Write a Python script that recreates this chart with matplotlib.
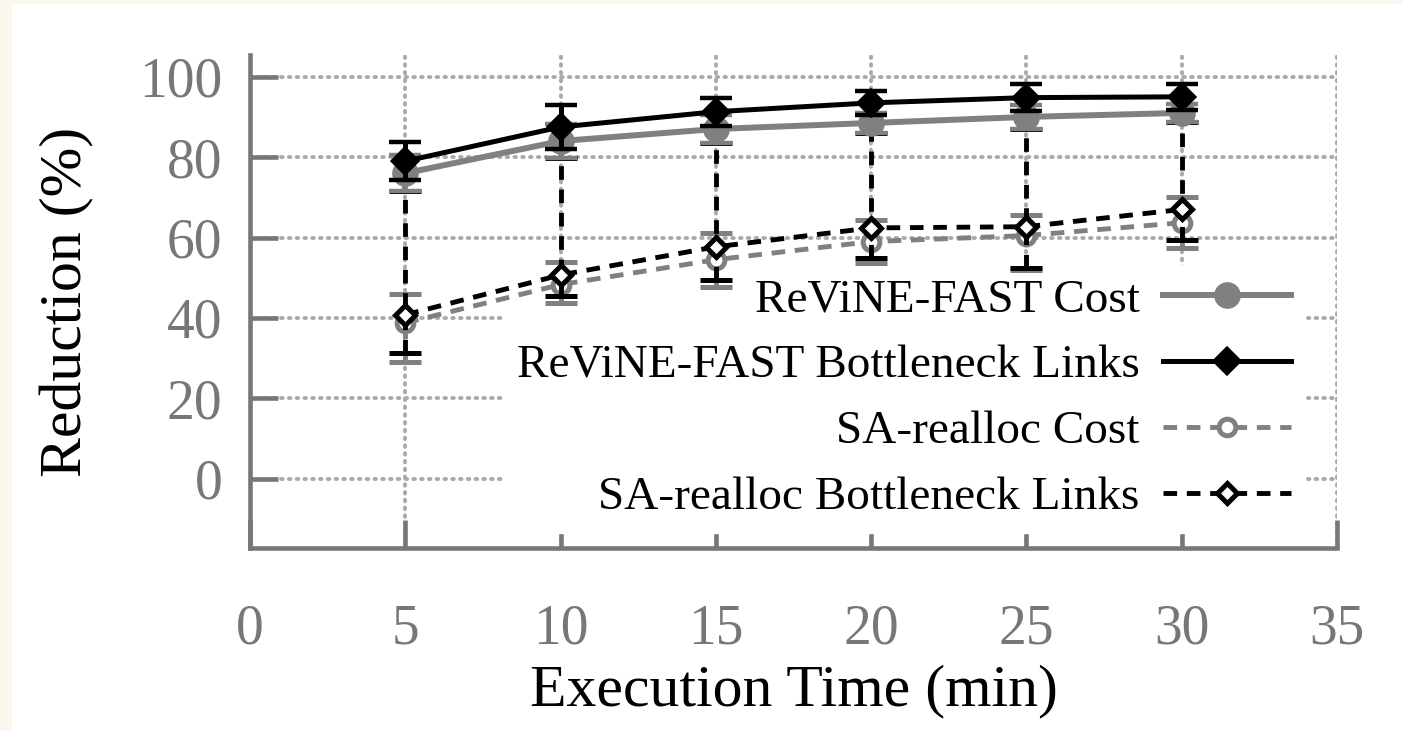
import matplotlib
matplotlib.use("Agg")
import matplotlib.pyplot as plt
import numpy as np

# ---- data ----
exec_time = [5, 10, 15, 20, 25, 30]

revine_cost = [76.0, 84.0, 87.0, 88.5, 90.0, 91.0]
revine_cost_err = [4.5, 4.3, 3.5, 2.5, 3.0, 2.3]

revine_bn = [79.0, 87.5, 91.3, 93.5, 94.8, 95.0]
revine_bn_err = [4.8, 5.5, 3.5, 3.0, 3.3, 3.3]

sa_cost = [38.8, 48.3, 54.5, 59.0, 60.5, 63.7]
sa_cost_lo = [29.0, 43.8, 47.8, 53.7, 52.0, 57.5]
sa_cost_hi = [46.0, 54.0, 61.2, 64.4, 65.7, 70.0]

sa_bn = [40.8, 50.7, 57.7, 62.4, 62.7, 67.0]
sa_bn_lo = [31.3, 45.5, 49.5, 55.0, 52.5, 59.5]
sa_bn_hi = [71.5, 79.7, 83.5, 86.0, 87.0, 88.7]

labels = ["ReViNE-FAST Cost", "ReViNE-FAST Bottleneck Links",
          "SA-realloc Cost", "SA-realloc Bottleneck Links"]
xticks = [0, 5, 10, 15, 20, 25, 30, 35]
yticks = [0, 20, 40, 60, 80, 100]

# ---- style ----
plt.rcParams['font.family'] = ['Liberation Serif', 'DejaVu Serif']
W, H = 1402, 731
fig = plt.figure(figsize=(W / 100, H / 100), dpi=100)
fig.patch.set_facecolor('#fbf7ee')
fig.patches.append(plt.Rectangle((12 / W, 0), 1 - 12 / W, 1 - 4 / H,
                                 transform=fig.transFigure, facecolor='white',
                                 edgecolor='none', zorder=-10))

ax = fig.add_axes([250 / W, 1 - 548 / H, (1337 - 250) / W, (548 - 55) / H])
ax.set_facecolor('none')
ax.set_xlim(0, 35)
ax.set_ylim(-17.2, 105.4)

GREY = '#808080'
SPINE = '#777777'
cap = 11.5
DASH = (2.8, 2.0)

def draw(x, y, lo, hi, color, ls, marker, ms, mfc, lw, mew, z, label):
    y = np.asarray(y)
    yerr = np.vstack([y - np.asarray(lo), np.asarray(hi) - y])
    line, caps, bars = ax.errorbar(x, y, yerr=yerr, color=color, lw=lw,
                                   linestyle=ls, marker=marker, ms=ms,
                                   mfc=mfc, mec=color, mew=mew,
                                   capsize=cap, capthick=3.8, elinewidth=lw,
                                   zorder=z, label=label)
    if ls != '-':
        line.set_dashes(DASH)
        for b in bars:
            b.set_linestyle((0, DASH))
    return line

l3 = draw(exec_time, sa_cost, sa_cost_lo, sa_cost_hi, GREY, '--', 'o', 12,
          'white', 3.5, 3.6, 3, labels[2])
l4 = draw(exec_time, sa_bn, sa_bn_lo, sa_bn_hi, 'black', '--', 'D', 10,
          'white', 3.5, 3.6, 4, labels[3])
rc = np.asarray(revine_cost); rce = np.asarray(revine_cost_err)
l1 = draw(exec_time, revine_cost, rc - rce, rc + rce, GREY, '-', 'o', 16,
          GREY, 4.3, 3.2, 5, labels[0])
rb = np.asarray(revine_bn); rbe = np.asarray(revine_bn_err)
l2 = draw(exec_time, revine_bn, rb - rbe, rb + rbe, 'black', '-', 'D', 12.5,
          'black', 3.6, 3.2, 6, labels[1])

# grid
ax.set_xticks(xticks)
ax.set_yticks(yticks)
ax.grid(True, color='#aaaaaa', linestyle=(0, (0.4, 1.6)), linewidth=2.8,
        dash_capstyle='round', zorder=1)
ax.set_axisbelow(True)

for s in ['top', 'right']:
    ax.spines[s].set_visible(False)
for s in ['left', 'bottom']:
    ax.spines[s].set_color(SPINE)
    ax.spines[s].set_linewidth(3.3)

ax.tick_params(axis='both', direction='in', color=SPINE, width=3.3,
               length=20, labelcolor='#777777', labelsize=40)
ax.tick_params(axis='y', pad=20)
ax.tick_params(axis='x', pad=40)

ax.set_xlabel("Execution Time (min)", fontsize=43, labelpad=6)
ax.set_ylabel("Reduction (%)", fontsize=43, labelpad=32)

handles = [l1, l2, l3, l4]
leg = ax.legend(handles, labels, loc='center right',
                bbox_to_anchor=((1305 - 250) / (1337 - 250), (548 - 399) / (548 - 55)),
                markerfirst=False, frameon=True, fancybox=False,
                facecolor='white', edgecolor='white', framealpha=1.0,
                fontsize=34, handlelength=2.7, handletextpad=0.5,
                labelspacing=0.48, borderpad=0.3, borderaxespad=0)
leg.set_zorder(2)

fig.savefig("out.png", dpi=100, facecolor=fig.get_facecolor())
